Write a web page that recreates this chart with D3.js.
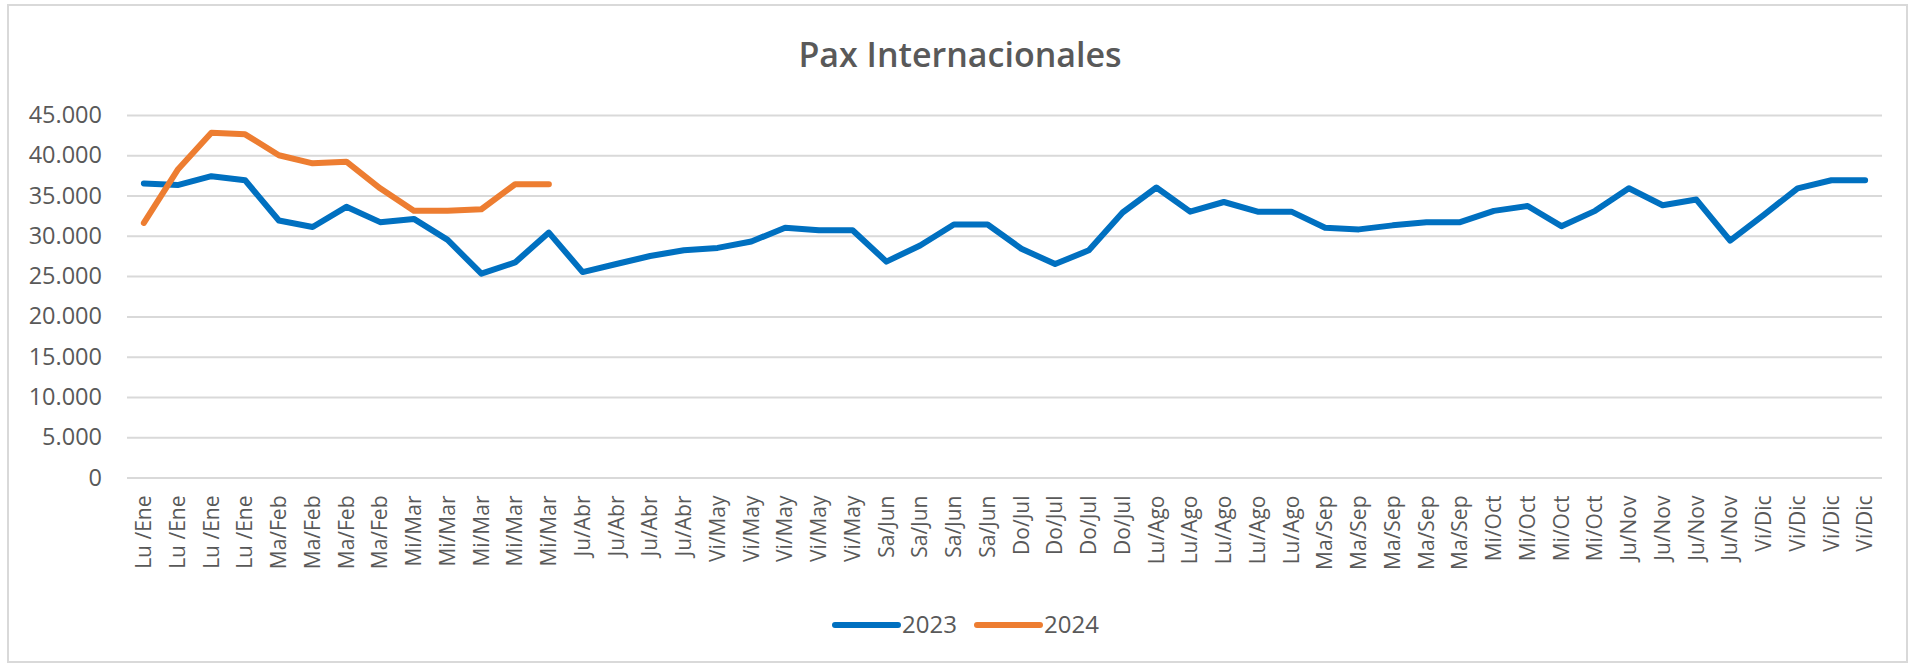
<!DOCTYPE html>
<html>
<head>
<meta charset="utf-8">
<script src="https://cdn.jsdelivr.net/npm/d3@7"></script>
<style>
  body { margin: 0; background: #fff; }
  text { font-family: "Open Sans", sans-serif; fill: #595959; }
</style>
</head>
<body>
<div id="chart-area"></div>
<script>
// weekly labels (52 weeks)
const weeks = [
  'Lu /Ene','Lu /Ene','Lu /Ene','Lu /Ene',
  'Ma/Feb','Ma/Feb','Ma/Feb','Ma/Feb',
  'Mi/Mar','Mi/Mar','Mi/Mar','Mi/Mar','Mi/Mar',
  'Ju/Abr','Ju/Abr','Ju/Abr','Ju/Abr',
  'Vi/May','Vi/May','Vi/May','Vi/May','Vi/May',
  'Sa/Jun','Sa/Jun','Sa/Jun','Sa/Jun',
  'Do/Jul','Do/Jul','Do/Jul','Do/Jul',
  'Lu/Ago','Lu/Ago','Lu/Ago','Lu/Ago','Lu/Ago',
  'Ma/Sep','Ma/Sep','Ma/Sep','Ma/Sep','Ma/Sep',
  'Mi/Oct','Mi/Oct','Mi/Oct','Mi/Oct',
  'Ju/Nov','Ju/Nov','Ju/Nov','Ju/Nov',
  'Vi/Dic','Vi/Dic','Vi/Dic','Vi/Dic'
];

const pax2023 = [
  36500, 36300, 37400, 36900, 31900, 31100, 33600, 31700, 32100, 29500,
  25300, 26700, 30400, 25500, 26500, 27500, 28200, 28500, 29300, 31000,
  30700, 30700, 26800, 28800, 31400, 31400, 28400, 26500, 28200, 32900,
  36000, 33000, 34200, 33000, 33000, 31000, 30800, 31300, 31700, 31700,
  33100, 33700, 31200, 33100, 35900, 33800, 34500, 29400, 32600, 35900,
  36900, 36900
];

const pax2024 = [
  31600, 38200, 42800, 42600, 40000, 39000, 39200, 35900, 33100, 33100,
  33300, 36400, 36400
];

const yTicks = [0, 5000, 10000, 15000, 20000, 25000, 30000, 35000, 40000, 45000];

const series = [
  { name: '2023', values: pax2023, color: '#0070C0' },
  { name: '2024', values: pax2024, color: '#ED7D31' }
];

const W = 1914, H = 667;
const plotLeft = 127, plotRight = 1882, plotTop = 115, plotBottom = 477.5;

const svg = d3.select('#chart-area').append('svg')
  .attr('width', W)
  .attr('height', H);

// outer border
svg.append('rect')
  .attr('x', 8).attr('y', 5)
  .attr('width', 1899).attr('height', 657)
  .attr('fill', '#fff')
  .attr('stroke', '#d9d9d9')
  .attr('stroke-width', 2);

svg.append('text')
  .attr('x', 960).attr('y', 67)
  .attr('text-anchor', 'middle')
  .attr('font-size', '34px')
  .attr('font-weight', 600)
  .text('Pax Internacionales');

const x = d3.scaleBand()
  .domain(d3.range(weeks.length))
  .range([plotLeft, plotRight]);

const y = d3.scaleLinear()
  .domain([0, 45000])
  .range([plotBottom, plotTop]);

const fmt = d3.formatLocale({ decimal: ',', thousands: '.', grouping: [3], currency: ['', ''] }).format(',');

// y axis + gridlines
const yAxis = svg.append('g')
  .attr('transform', `translate(${plotLeft},0)`)
  .call(d3.axisLeft(y).tickValues(yTicks).tickFormat(fmt).tickSize(-(plotRight - plotLeft)).tickPadding(25));
yAxis.select('.domain').remove();
yAxis.selectAll('line').attr('stroke', '#d9d9d9').attr('stroke-width', 2);
yAxis.selectAll('text')
  .attr('font-size', '23.5px')
  .attr('fill', '#595959')
  .attr('font-family', '"Open Sans", sans-serif');

// x axis labels
const xAxis = svg.append('g')
  .attr('transform', `translate(0,${plotBottom})`)
  .call(d3.axisBottom(x).tickFormat(i => weeks[i]).tickSize(0));
xAxis.select('.domain').remove();
xAxis.selectAll('text')
  .attr('font-size', '21px')
  .attr('fill', '#595959')
  .attr('font-family', '"Open Sans", sans-serif')
  .attr('text-anchor', 'end')
  .attr('transform', 'rotate(-90)')
  .attr('x', -18)
  .attr('y', 0)
  .attr('dy', '0.35em');

const line = d3.line()
  .x((d, i) => x(i) + x.bandwidth() / 2)
  .y(d => y(d));

svg.selectAll('path.series')
  .data(series)
  .enter()
  .append('path')
  .attr('class', 'series')
  .attr('d', d => line(d.values))
  .attr('fill', 'none')
  .attr('stroke', d => d.color)
  .attr('stroke-width', 6)
  .attr('stroke-linejoin', 'round')
  .attr('stroke-linecap', 'round');

// legend
const legend = svg.selectAll('g.legend')
  .data(series)
  .enter()
  .append('g')
  .attr('class', 'legend')
  .attr('transform', (d, i) => `translate(${835 + i * 142},625)`);

legend.append('line')
  .attr('x1', 0).attr('x2', 63)
  .attr('stroke', d => d.color)
  .attr('stroke-width', 6)
  .attr('stroke-linecap', 'round');

legend.append('text')
  .attr('x', 67)
  .attr('dy', '0.35em')
  .attr('font-size', '24px')
  .text(d => d.name);
</script>
</body>
</html>
